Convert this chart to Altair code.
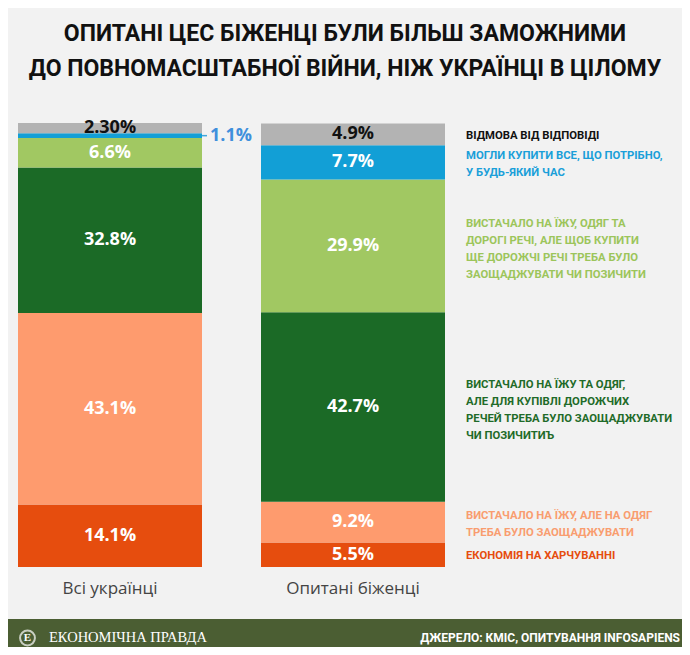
import altair as alt
import pandas as pd

groups = ["Всі українці", "Опитані біженці"]
categories = [
    "Економія на харчуванні",
    "Вистачало на їжу, але на одяг треба було заощаджувати",
    "Вистачало на їжу та одяг, але для купівлі дорожчих речей треба було заощаджувати",
    "Вистачало на їжу, одяг та дорогі речі, але щоб купити ще дорожчі речі треба було заощаджувати",
    "Могли купити все, що потрібно, у будь-який час",
    "Відмова від відповіді",
]
all_ukr = [14.1, 43.1, 32.8, 6.6, 1.1, 2.3]
refugees = [5.5, 9.2, 42.7, 29.9, 7.7, 4.9]
all_ukr_labels = ["14.1%", "43.1%", "32.8%", "6.6%", "", "2.30%"]
refugee_labels = ["5.5%", "9.2%", "42.7%", "29.9%", "7.7%", "4.9%"]
outside_label = "1.1%"
bar_colors = ["#e64d0e", "#fe9b6e", "#1b6a26", "#a1c862", "#129fd6", "#b3b3b3"]
label_colors = ["#ffffff", "#ffffff", "#ffffff", "#ffffff", "#ffffff", "#111111"]
legend_texts = [
    "ЕКОНОМІЯ НА ХАРЧУВАННІ",
    "ВИСТАЧАЛО НА ЇЖУ, АЛЕ НА ОДЯГ\nТРЕБА БУЛО ЗАОЩАДЖУВАТИ",
    "ВИСТАЧАЛО НА ЇЖУ ТА ОДЯГ,\nАЛЕ ДЛЯ КУПІВЛІ ДОРОЖЧИХ\nРЕЧЕЙ ТРЕБА БУЛО ЗАОЩАДЖУВАТИ\nЧИ ПОЗИЧИТИЪ",
    "ВИСТАЧАЛО НА ЇЖУ, ОДЯГ ТА\nДОРОГІ РЕЧІ, АЛЕ ЩОБ КУПИТИ\nЩЕ ДОРОЖЧІ РЕЧІ ТРЕБА БУЛО\nЗАОЩАДЖУВАТИ ЧИ ПОЗИЧИТИ",
    "МОГЛИ КУПИТИ ВСЕ, ЩО ПОТРІБНО,\nУ БУДЬ-ЯКИЙ ЧАС",
    "ВІДМОВА ВІД ВІДПОВІДІ",
]
legend_colors = ["#e64d0e", "#f99d6f", "#1f6b29", "#9cc55b", "#1a9fd9", "#111111"]
title_text = "ОПИТАНІ ЦЕС БІЖЕНЦІ БУЛИ БІЛЬШ ЗАМОЖНИМИ\nДО ПОВНОМАСШТАБНОЇ ВІЙНИ, НІЖ УКРАЇНЦІ В ЦІЛОМУ"
source_text = "ДЖЕРЕЛО: КМІС, ОПИТУВАННЯ INFOSAPIENS"
brand_text = "ЕКОНОМІЧНА ПРАВДА"

COND = "Roboto"
LEG_LH = 17

rows = []
for g, vals, labs in [(groups[0], all_ukr, all_ukr_labels), (groups[1], refugees, refugee_labels)]:
    start = 0.0
    for i, (c, v, l) in enumerate(zip(categories, vals, labs)):
        rows.append(dict(group=g, category=c, order=i, start=start, end=start + v,
                         mid=start + v / 2, label=l, lcolor=label_colors[i],
                         legend=legend_texts[i], legcolor=legend_colors[i],
                         nlines=legend_texts[i].count("\n") + 1))
        start += v
df = pd.DataFrame(rows)

xscale = alt.Scale(domain=groups, range=[10, 437], paddingInner=0.2428, paddingOuter=0)
yscale = alt.Scale(domain=[0, 100], range=[559, 115], nice=False, zero=False)

base = alt.Chart(df)

bars = base.mark_bar().encode(
    x=alt.X("group:N", scale=xscale, axis=None, sort=groups),
    y=alt.Y("start:Q", scale=yscale, axis=None),
    y2="end:Q",
    color=alt.Color("category:N", scale=alt.Scale(domain=categories, range=bar_colors), legend=None),
)

bar_labels = base.mark_text(font="Open Sans", fontWeight="bold", fontSize=18, baseline="middle").encode(
    x=alt.X("group:N", scale=xscale, axis=None, sort=groups),
    y=alt.Y("mid:Q", scale=yscale, axis=None),
    text="label:N",
    color=alt.Color("lcolor:N", scale=None),
)

out_df = df[(df.group == groups[0]) & (df.label == "")].assign(olabel=outside_label)
leader = alt.Chart(out_df).mark_rule(color="#3ea6dc", strokeWidth=1.5).encode(
    x=alt.X("group:N", scale=xscale, axis=None, sort=groups, bandPosition=1),
    x2=alt.value(199),
    y=alt.Y("mid:Q", scale=yscale, axis=None),
)
out_label = alt.Chart(out_df).mark_text(font="Open Sans", fontWeight="bold", fontSize=18,
                                        align="left", baseline="middle", dx=8, color="#3f8fdc").encode(
    x=alt.X("group:N", scale=xscale, axis=None, sort=groups, bandPosition=1),
    y=alt.Y("mid:Q", scale=yscale, axis=None),
    text="olabel:N",
)

leg_df = df[df.group == groups[1]]
legend_layers = []
for n in sorted(leg_df.nlines.unique()):
    sub = leg_df[leg_df.nlines == n]
    legend_layers.append(
        alt.Chart(sub).mark_text(font=COND, fontWeight="bold", fontSize=11.3, align="left",
                                 baseline="middle", lineBreak="\n", lineHeight=LEG_LH,
                                 dy=1.5 - (int(n) - 1) * 7.7).encode(
            x=alt.value(458),
            y=alt.Y("mid:Q", scale=yscale, axis=None),
            text="legend:N",
            color=alt.Color("legcolor:N", scale=None),
        )
    )

cat_df = pd.DataFrame({"group": groups})
cat_labels = alt.Chart(cat_df).mark_text(font="Open Sans", fontSize=17, color="#444444", baseline="middle").encode(
    x=alt.X("group:N", scale=xscale, axis=None, sort=groups),
    y=alt.value(581),
    text="group:N",
)

title = alt.Chart(pd.DataFrame({"t": [title_text]})).mark_text(
    font=COND, fontWeight="bold", fontSize=23, color="#111111", align="center",
    baseline="alphabetic", lineBreak="\n", lineHeight=35).encode(
    x=alt.value(337), y=alt.value(33), text="t:N")

footer = alt.Chart(pd.DataFrame({"a": [0]})).mark_rect(color="#4b5e33").encode(
    x=alt.value(0), x2=alt.value(674), y=alt.value(611), y2=alt.value(640))

logo_ring = alt.Chart(pd.DataFrame({"a": [0]})).mark_point(
    shape="circle", filled=False, stroke="white", strokeWidth=2, size=220).encode(
    x=alt.value(19.5), y=alt.value(630))
logo_letter = alt.Chart(pd.DataFrame({"t": ["Е"]})).mark_text(
    font="Liberation Serif", fontWeight="bold", fontSize=11, color="white", baseline="middle").encode(
    x=alt.value(19.5), y=alt.value(630), text="t:N")
brand = alt.Chart(pd.DataFrame({"t": [brand_text]})).mark_text(
    font="Liberation Serif", fontSize=14.5, color="white", align="left", baseline="middle").encode(
    x=alt.value(41), y=alt.value(630), text="t:N")
source = alt.Chart(pd.DataFrame({"t": [source_text]})).mark_text(
    font=COND, fontWeight="bold", fontSize=12, color="white", align="right", baseline="middle").encode(
    x=alt.value(672), y=alt.value(630), text="t:N")

chart = alt.layer(
    footer, bars, leader, bar_labels, out_label, *legend_layers, cat_labels, title,
    logo_ring, logo_letter, brand, source
).properties(
    width=674, height=639, padding=0, autosize=alt.AutoSizeParams(type="none"),
    background="#f2f2f2",
).configure_view(stroke=None)

chart.save("out.html", embed_options={"renderer": "svg", "actions": False})
